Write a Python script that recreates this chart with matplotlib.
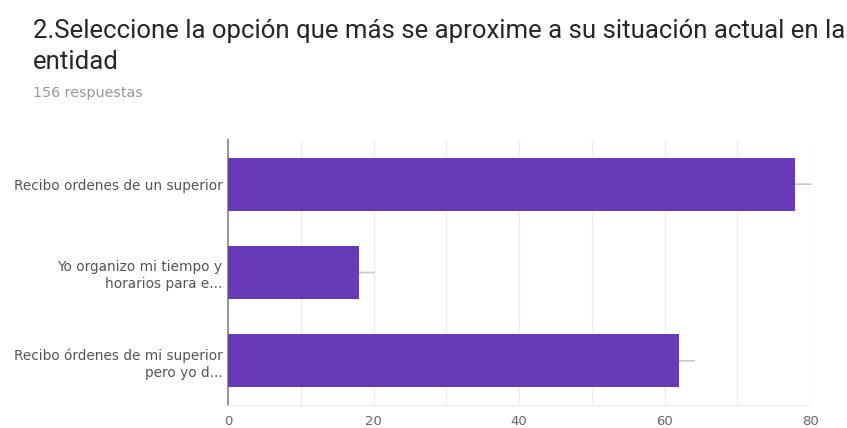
import matplotlib
matplotlib.use("Agg")
import matplotlib.pyplot as plt
from matplotlib.ticker import MultipleLocator

categories = ["Recibo ordenes de un superior",
              "Yo organizo mi tiempo y\nhorarios para e...",
              "Recibo órdenes de mi superior\npero yo d..."]
values = [78, 18, 62]
xticks = [0, 20, 40, 60, 80]
title_lines = ["2.Seleccione la opción que más se aproxime a su situación actual en la",
               "entidad"]
subtitle = "156 respuestas"

W, H = 847, 428
fig = plt.figure(figsize=(W/100, H/100), dpi=100)
small = ['DejaVu Sans']

ax = fig.add_axes([228/W, 1-405/H, (810-228)/W, (405-140)/H])
y = list(range(len(categories)))
ax.barh(y, values, height=0.6, color="#673ab7", zorder=3)
for yi, v in zip(y, values):
    ax.annotate("", xy=(v, yi), xytext=(11, 0), textcoords="offset points",
                arrowprops=dict(arrowstyle="-", color="#c8c8c8", lw=1.2,
                                shrinkA=0, shrinkB=0), zorder=2)
ax.set_ylim(len(categories)-0.5, -0.5)
ax.set_xlim(0, 80)
ax.set_yticks(y)
ax.set_yticklabels(categories, fontsize=9.8, color="#555555", ha="right",
                   family=small, linespacing=1.3)
ax.set_xticks(xticks)
ax.set_xticklabels([str(t) for t in xticks], fontsize=9.5, color="#666666",
                   family=small)
ax.xaxis.set_minor_locator(MultipleLocator(10))
ax.grid(axis="x", which="both", color="#eeeeee", lw=1, zorder=0)
ax.tick_params(axis="both", which="both", length=0)
ax.tick_params(axis="y", pad=4)
ax.tick_params(axis="x", pad=7)
for s in ["top", "right"]:
    ax.spines[s].set_visible(False)
ax.spines["bottom"].set_color("#eeeeee")
ax.spines["left"].set_color("#999999")
ax.spines["left"].set_linewidth(1.5)

fig.text(33/W, 1-31/H, title_lines[0], fontsize=18.5, color="#262626",
         va="center", ha="left", family=['Roboto', 'DejaVu Sans'])
fig.text(33/W, 1-62/H, title_lines[1], fontsize=18.5, color="#262626",
         va="center", ha="left", family=['Roboto', 'DejaVu Sans'])
fig.text(33/W, 1-93/H, subtitle, fontsize=10.3, color="#999999", va="center",
         family=small)

fig.savefig("out.png", dpi=100)
